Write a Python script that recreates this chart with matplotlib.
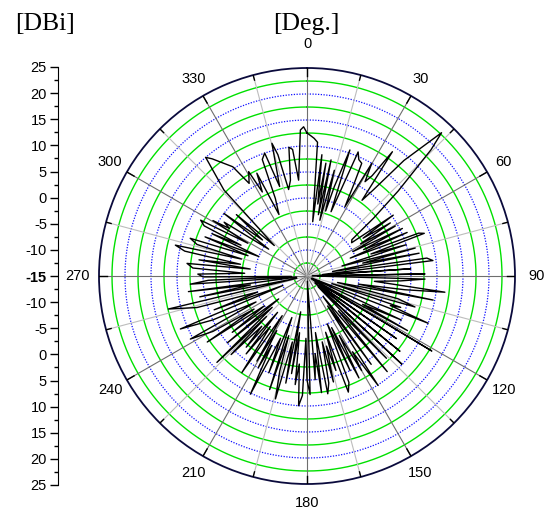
import matplotlib
matplotlib.use('Agg')
import matplotlib.pyplot as plt
import numpy as np

# data (angle in deg, gain in dBi)
angles = [0, 1.5, 3, 4.5, 6, 7, 8.5, 9.5, 10.5, 11.7, 13, 14.5, 16, 17, 18.8, 20.5, 22.4, 24, 25.9, 27,
          28.7, 29.9, 31.6, 33, 34.5, 36, 37.6, 40, 43.2, 44.5, 47, 49, 51, 53.3, 54.8, 56, 57.5, 59, 60.5, 62,
          63.5, 65, 66.5, 67.5, 69, 70, 71, 72.5, 74, 75.5, 77, 78.5, 80, 81.5, 83, 84.5, 86, 87.5, 89, 90.5,
          91.5, 93, 94.5, 96.7, 98, 99, 100.8, 102, 104, 106, 107, 108.5, 109.5, 111.3, 113, 115, 117, 118.5, 119.5, 121,
          123, 125, 127, 129, 131, 132.9, 134, 136, 138, 140, 142, 144, 145.5, 147, 149, 150, 151.5, 153, 154.5, 155.5,
          157, 158.5, 160.4, 161.7, 163, 164.5, 166, 167, 168.5, 170, 171.5, 172.9, 174, 175.5, 176.5, 178.5, 180, 181,
          182.2, 183.7, 185, 186.2, 187.5, 189, 190, 191.2, 192.5, 194.4, 196, 197, 198.2, 200, 201.5, 203, 205.6, 207,
          208, 209, 210.5, 212, 214, 216, 218, 219, 220.5, 222, 224, 225, 226.2, 228, 230, 231, 233, 235, 236.5, 238,
          239.5, 241.6, 243, 245, 247.3, 248.5, 250, 252, 254, 256.6, 257.5, 259, 261, 262.5, 264, 266, 267.5, 268.5,
          269.5, 271, 272.5, 274, 276, 277, 278.5, 280, 281.5, 283.2, 284.5, 286, 287.9, 289, 291, 292, 294, 295, 296,
          297.7, 299, 300.5, 301.5, 303, 305, 307, 309, 311, 313, 316, 319.5, 321, 323.5, 325.8, 328, 330.8, 332, 334,
          335.5, 337.8, 339, 341, 343, 345.2, 346.5, 348, 350.2, 352, 353.5, 355, 357.4, 358.7, 360]
gain = [12.5, 12.0, 11.5, 10.8, -4.5, 8.5, -1.0, 7.0, -3.0, 7.8, -4.0, 6.0, -2.0, 3.0, 10.6, -1.8, 10.8, 9.5, 9.1, 5.0,
        0.2, 10.0, 6.3, 8.0, 14.0, 3.0, 5.9, 14.0, 22.8, 19.0, 9.0, 2.0, -3.9, -4.3, 5.3, -2.0, 4.0, -3.0, 4.5, -5.0,
        5.5, -3.0, 6.0, -6.0, 8.0, 9.0, -2.0, 5.0, -8.0, 6.5, -4.0, 7.0, -10.0, 8.3, 9.4, -12.0, 5.0, -14.0, 7.7, -13.0,
        7.7, 3.0, -2.0, 11.7, 4.0, -5.0, 9.7, -9.0, 3.0, 6.6, -10.0, 4.0, 2.0, 10.0, -14.0, 5.0, -3.0, 7.0, -13.0, 13.0,
        -14.0, 6.0, -12.0, 8.0, -13.0, 9.9, -12.0, 7.0, -6.0, 9.0, -10.0, 6.0, -8.0, 10.1, 2.0, 6.0, -2.0, 7.0, -4.0, 5.0,
        -5.0, 7.0, 8.7, -3.6, 4.0, -1.0, 6.0, -2.0, 6.0, 8.0, -4.0, 7.6, 0.0, 5.0, -14.0, 7.8, 5.0, -3.0,
        8.0, 10.0, 2.0, 6.0, -4.0, 4.0, -8.0, 6.0, -2.0, 9.4, 4.0, -3.0, 8.0, -6.5, 5.0, -2.0, 10.2, 0.0,
        5.0, -3.0, 4.0, -6.0, 7.4, -3.0, 4.0, -6.0, 3.0, -2.0, 6.0, -4.0, 9.0, -6.0, 5.0, -8.0, 3.0, -5.0, 8.0, -3.0,
        6.0, 10.5, -4.0, 5.0, 11.4, -10.0, 4.0, -5.0, 7.0, 12.4, -13.0, 6.0, -4.0, 8.0, -13.0, 7.5, 4.0, -12.0,
        5.0, 6.0, -3.0, 7.0, 8.2, -4.0, 6.0, -2.0, 9.0, 11.0, -2.0, 7.0, 8.6, -3.0, 6.0, -5.0, 5.0, -1.0, 7.0,
        8.1, -2.0, 6.0, 2.5, 4.0, -6.0, 5.0, -4.0, 3.0, -6.4, 8.0, 15.0, 14.0, 12.0, 10.4, 6.0, 8.0, 3.3, 7.0,
        -2.0, 1.1, 9.0, 10.0, 3.0, 11.4, 9.0, 2.0, 3.7, 10.0, 9.5, 3.5, 13.1, 13.7, 12.5]

angle_ticks = [0, 30, 60, 90, 120, 150, 180, 210, 240, 270, 300, 330]
r_min, r_max = -15, 25
left_ticks = np.arange(-40, 41, 5)

fig = plt.figure(figsize=(5.5, 5.15), dpi=100)
W, H = 550, 515

# polar axes: centre (307,276), radius 208 px
ax = fig.add_axes([99 / W, (H - 484) / H, 416 / W, 416 / H], projection='polar')
ax.set_theta_zero_location('N')
ax.set_theta_direction(-1)
ax.set_rlim(r_min, r_max)
ax.grid(False)
ax.set_xticks([])
ax.set_yticks([])
ax.spines['polar'].set_color('#0a0a3c')
ax.spines['polar'].set_linewidth(1.3)

th = np.linspace(0, 2 * np.pi, 721)
# rings: green solid on half steps, blue dotted on whole 5s
for r in np.arange(-12.5, 25, 2.5):
    if abs((r + 12.5) % 5) < 1e-6:
        ax.plot(th, np.full_like(th, r), color='#00e000', lw=1.0, zorder=1)
    else:
        ax.plot(th, np.full_like(th, r), color='#1010ff', lw=0.9, ls=(0, (1, 1.2)), zorder=1)

# spokes
for a in range(0, 360, 15):
    t = np.deg2rad(a)
    col = '#6e6e6e' if a % 30 == 0 else '#bdbdbd'
    ax.plot([t, t], [r_min, r_max], color=col, lw=0.8, zorder=1)
    tl = 1.6 if a % 30 == 0 else 1.0
    ax.plot([t, t], [r_max - tl, r_max], color='black', lw=1.0, zorder=3)

# data
ax.plot(np.deg2rad(angles), gain, color='black', lw=1.0, zorder=4)

# angle labels
for a in angle_ticks:
    off = 4.6 if a == 0 else (4.2 if a in (90, 270) else 3.7)
    ax.text(np.deg2rad(a), r_max + off, str(a), ha='center', va='center',
            fontsize=10.5, family='Liberation Sans', clip_on=False)

# left radial scale
ax2 = fig.add_axes([58 / W, (H - 485) / H, 0.001, 418 / H])
ax2.set_ylim(-40, 40)
ax2.set_xlim(0, 1)
for s in ['top', 'right', 'bottom']:
    ax2.spines[s].set_visible(False)
ax2.set_xticks([])
ax2.set_yticks(left_ticks)
ax2.set_yticks(np.arange(-37.5, 40, 5), minor=True)
ax2.set_yticklabels([f"{r_min + abs(v):g}" for v in left_ticks], family='Liberation Sans', fontsize=10.5)
for lab, v in zip(ax2.get_yticklabels(), left_ticks):
    if v == 0:
        lab.set_fontweight('bold')
ax2.tick_params(axis='y', which='major', length=6, width=1, pad=2)
ax2.tick_params(axis='y', which='minor', length=3, width=1)
ax2.patch.set_visible(False)

fig.text(15 / W, 1 - 24 / H, '[DBi]', family='Liberation Serif', fontsize=18.5, va='center', ha='left')
fig.text(273 / W, 1 - 24 / H, '[Deg.]', family='Liberation Serif', fontsize=18.5, va='center', ha='left')

fig.savefig('out.png', dpi=100)
